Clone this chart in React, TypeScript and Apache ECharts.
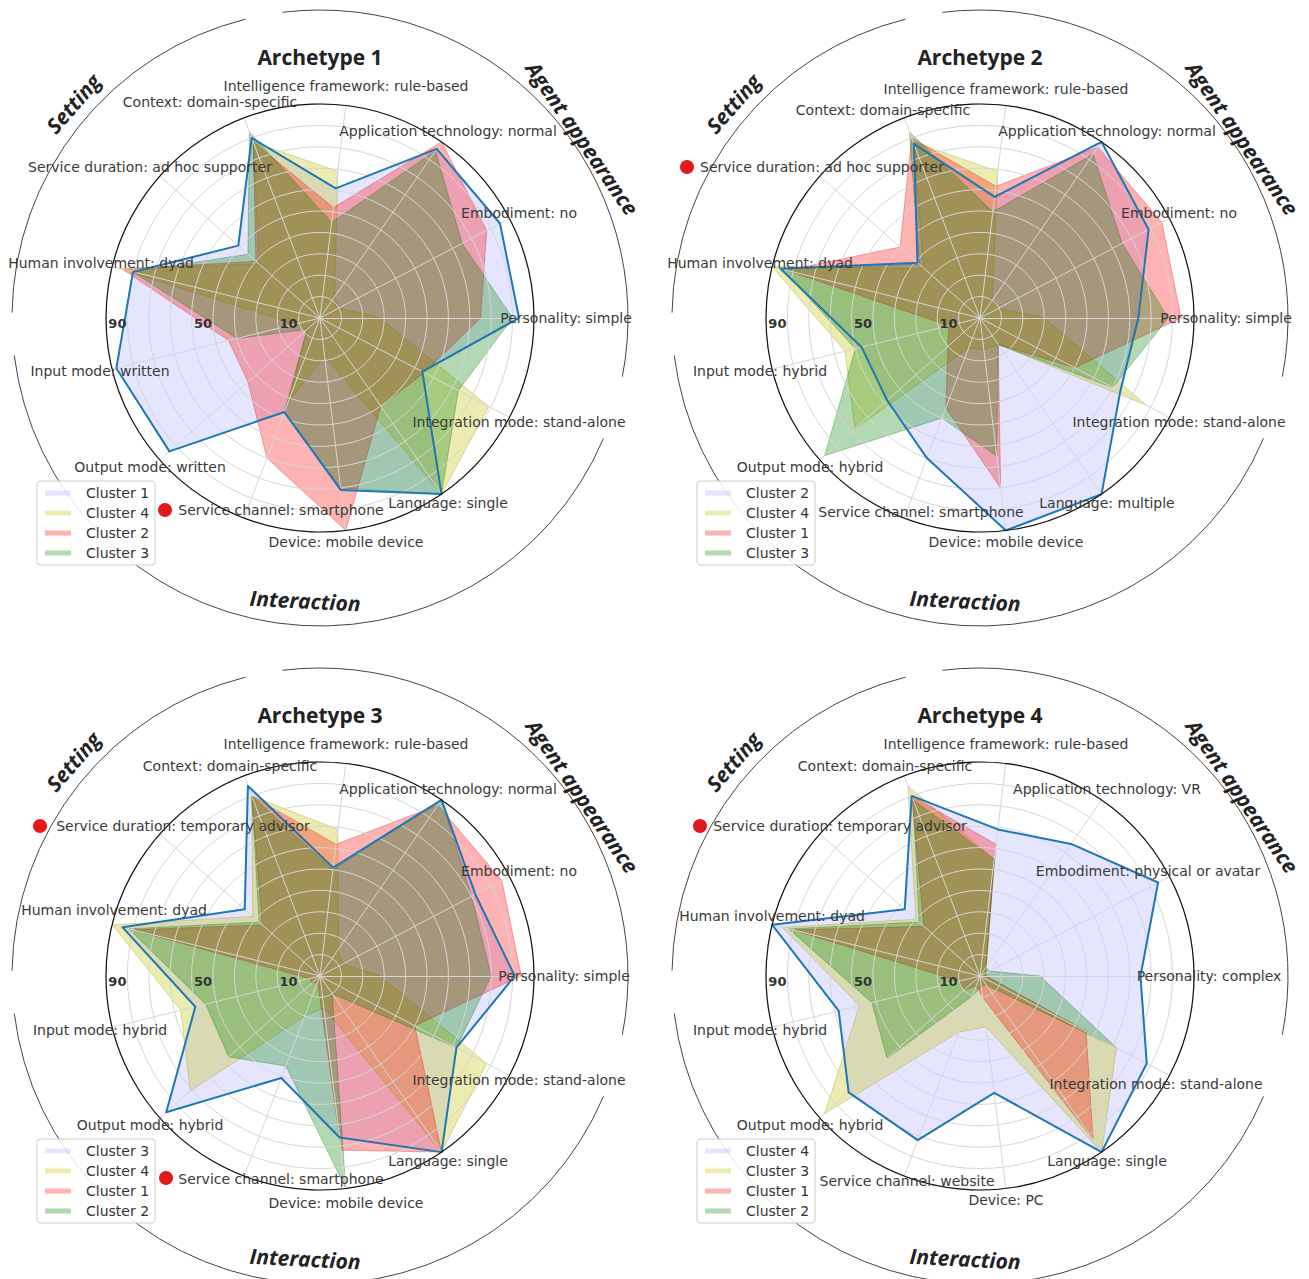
import React, { useEffect, useRef } from "react";
import * as echarts from "echarts";

// Axis order (counter-clockwise from the right): Personality, Embodiment, Application technology,
// Intelligence framework, Context, Service duration, Human involvement, Input mode, Output mode,
// Service channel, Device, Language, Integration mode
const labels1 = ["Personality: simple", "Embodiment: no", "Application technology: normal", "Intelligence framework: rule-based", "Context: domain-specific", "Service duration: ad hoc supporter", "Human involvement: dyad", "Input mode: written", "Output mode: written", "Service channel: smartphone", "Device: mobile device", "Language: single", "Integration mode: stand-alone"];
const labels2 = ["Personality: simple", "Embodiment: no", "Application technology: normal", "Intelligence framework: rule-based", "Context: domain-specific", "Service duration: ad hoc supporter", "Human involvement: dyad", "Input mode: hybrid", "Output mode: hybrid", "Service channel: smartphone", "Device: mobile device", "Language: multiple", "Integration mode: stand-alone"];
const labels3 = ["Personality: simple", "Embodiment: no", "Application technology: normal", "Intelligence framework: rule-based", "Context: domain-specific", "Service duration: temporary advisor", "Human involvement: dyad", "Input mode: hybrid", "Output mode: hybrid", "Service channel: smartphone", "Device: mobile device", "Language: single", "Integration mode: stand-alone"];
const labels4 = ["Personality: complex", "Embodiment: physical or avatar", "Application technology: VR", "Intelligence framework: rule-based", "Context: domain-specific", "Service duration: temporary advisor", "Human involvement: dyad", "Input mode: hybrid", "Output mode: hybrid", "Service channel: website", "Device: PC", "Language: single", "Integration mode: stand-alone"];

// Archetype 1
const a1Names = ["Cluster 1", "Cluster 4", "Cluster 2", "Cluster 3"];
const a1Cluster1 = [93, 95, 96, 61, 90, 51, 90, 98, 94, 47, 81, 100, 54];
const a1Cluster4 = [28, 10, 12, 69, 88, 38, 97, 12, 8, 42, 18, 100, 89];
const a1Cluster2 = [75, 88, 100, 52, 88, 40, 95, 44, 45, 70, 100, 50, 55];
const a1Cluster3 = [90, 75, 95, 45, 93, 45, 90, 40, 8, 47, 80, 100, 73];

// Archetype 2
const a2Names = ["Cluster 2", "Cluster 4", "Cluster 1", "Cluster 3"];
const a2Cluster2 = [74, 89, 100, 57, 87, 39, 96, 57, 58, 70, 100, 100, 74];
const a2Cluster4 = [30, 10, 10, 69, 88, 35, 100, 65, 78, 15, 15, 15, 88];
const a2Cluster1 = [94, 96, 97, 62, 90, 50, 93, 15, 20, 45, 80, 15, 50];
const a2Cluster3 = [88, 75, 93, 50, 93, 38, 95, 60, 97, 50, 65, 15, 70];

// Archetype 3
const a3Names = ["Cluster 3", "Cluster 4", "Cluster 1", "Cluster 2"];
const a3Cluster3 = [91, 82, 100, 51, 95, 47, 95, 60, 96, 51, 76, 100, 72];
const a3Cluster4 = [28, 12, 15, 69, 90, 42, 100, 67, 81, 20, 15, 100, 88];
const a3Cluster1 = [94, 96, 97, 62, 90, 36, 90, 5, 5, 3, 82, 100, 50];
const a3Cluster2 = [80, 80, 100, 50, 90, 38, 92, 55, 57, 45, 100, 10, 72];

// Archetype 4
const a4Names = ["Cluster 4", "Cluster 3", "Cluster 1", "Cluster 2"];
const a4Cluster4 = [75, 94, 75, 69, 90, 47, 100, 68, 82, 82, 55, 100, 88];
const a4Cluster3 = [3, 3, 5, 55, 95, 40, 95, 58, 97, 28, 24, 100, 72];
const a4Cluster1 = [3, 3, 5, 62, 90, 35, 90, 10, 10, 5, 10, 93, 56];
const a4Cluster2 = [28, 5, 5, 55, 88, 38, 92, 52, 58, 10, 5, 5, 72];

const tickValues = [10, 50, 90];
const sectionNames = ["Setting", "Agent appearance", "Interaction"];

// styling
const FILL = ["rgba(0,0,255,0.1)", "rgba(191,191,0,0.3)", "rgba(255,0,0,0.3)", "rgba(0,128,0,0.3)"];
const EDGE = ["rgba(0,0,255,0.1)", "rgba(150,150,0,0.35)", "rgba(200,0,0,0.3)", "rgba(0,100,0,0.3)"];
const BLUE = "#1f77b4";
const R = 214;

// layout (label centre offsets relative to the radar centre)
const off1 = [[246, 0], [199, -105], [128, -187], [26, -232], [-110, -216], [-170, -151], [-219, -55], [-220, 53], [-170, 149], [-39, 192], [26, 224], [128, 185], [199, 104]];
const off2 = [[246, 0], [199, -105], [127, -187], [26, -229], [-97, -208], [-158, -151], [-220, -55], [-220, 53], [-170, 149], [-59, 194], [26, 224], [127, 185], [199, 104]];
const off3 = [[244, 0], [199, -105], [128, -187], [26, -232], [-90, -210], [-137, -150], [-206, -66], [-220, 54], [-170, 149], [-39, 203], [26, 227], [128, 185], [199, 104]];
const off4 = [[229, 0], [168, -105], [127, -187], [26, -232], [-95, -210], [-140, -150], [-208, -60], [-220, 54], [-170, 149], [-73, 205], [26, 224], [127, 185], [176, 108]];

const configs = [
  { title: "Archetype 1", labels: labels1, names: a1Names, values: [a1Cluster1, a1Cluster4, a1Cluster2, a1Cluster3], offsets: off1, dots: [[-155, 192]], left: 0, top: 0, width: 655, height: 640, cx: 320, cy: 318 },
  { title: "Archetype 2", labels: labels2, names: a2Names, values: [a2Cluster2, a2Cluster4, a2Cluster1, a2Cluster3], offsets: off2, dots: [[-293, -151]], left: 655, top: 0, width: 654, height: 640, cx: 325, cy: 318 },
  { title: "Archetype 3", labels: labels3, names: a3Names, values: [a3Cluster3, a3Cluster4, a3Cluster1, a3Cluster2], offsets: off3, dots: [[-280, -150], [-154, 202]], left: 0, top: 640, width: 655, height: 639, cx: 320, cy: 336 },
  { title: "Archetype 4", labels: labels4, names: a4Names, values: [a4Cluster4, a4Cluster3, a4Cluster1, a4Cluster2], offsets: off4, dots: [[-280, -150]], left: 655, top: 640, width: 654, height: 639, cx: 325, cy: 336 },
];

const deg = Math.PI / 180;

function txt(x: number, y: number, text: string, font: any, extra: any = {}) {
  return {
    type: "text",
    x,
    y,
    z: 100,
    silent: true,
    ...extra,
    style: {
      text,
      fill: font.fill || "#333",
      fontSize: font.size,
      fontFamily: font.family || "DejaVu Sans",
      fontWeight: font.weight || "normal",
      fontStyle: font.style || "normal",
      align: "center",
      verticalAlign: "middle",
      textAlign: "center",
      textVerticalAlign: "middle",
    },
  };
}

function buildOption(cfg: any) {
  const { cx, cy } = cfg;
  const graphic: any[] = [];
  // title
  graphic.push(txt(cx, cy - 261, cfg.title, { size: 21, weight: "bold", family: "Open Sans", fill: "#222" }));
  // axis labels
  cfg.labels.forEach((lab: string, i: number) => {
    const [dx, dy] = cfg.offsets[i];
    graphic.push(txt(cx + dx, cy + dy, lab, { size: 14, fill: "#3a3a3a" }));
  });
  // red dots
  cfg.dots.forEach(([dx, dy]: number[]) => {
    graphic.push({ type: "circle", z: 100, silent: true, shape: { cx: cx + dx, cy: cy + dy, r: 7 }, style: { fill: "#e31a1c", stroke: "none" } });
  });
  // radial tick labels
  tickValues.forEach((v) => {
    graphic.push(txt(cx - (R * v) / 100 - 10, cy + 5, String(v), { size: 13, weight: "bold", fill: "#333" }));
  });
  // outer frame circle
  graphic.push({ type: "circle", z: 90, silent: true, shape: { cx, cy, r: R }, style: { fill: "none", stroke: "#111", lineWidth: 1.2 } });
  // section arcs (screen angles, clockwise)
  const arcs = [
    [-179, -104],
    [-97, 11],
    [23, 173],
  ];
  arcs.forEach(([s, e]) => {
    graphic.push({ type: "arc", z: 90, silent: true, shape: { cx, cy, r: 308, startAngle: s * deg, endAngle: e * deg, clockwise: true }, style: { fill: "none", stroke: "#444", lineWidth: 1 } });
  });
  // section titles
  const secs = [
    { a: 139, r: 327, rot: 49 },
    { a: 34.4, r: 318, rot: -55.6 },
    { a: 267, r: 283, rot: -3 },
  ];
  secs.forEach((s, i) => {
    graphic.push(
      txt(cx + s.r * Math.cos(s.a * deg), cy - s.r * Math.sin(s.a * deg), sectionNames[i], { size: 21, weight: "bold", style: "italic", family: "Open Sans", fill: "#222" }, { rotation: s.rot * deg })
    );
  });

  const series: any[] = cfg.values.map((vals: number[], i: number) => ({
    type: "radar",
    name: cfg.names[i],
    z: 1,
    symbol: "none",
    silent: true,
    data: [{ name: cfg.names[i], value: vals }],
    itemStyle: { color: FILL[i] },
    lineStyle: { color: EDGE[i], width: 1 },
    areaStyle: { color: FILL[i], opacity: 1 },
  }));
  series.push({
    type: "radar",
    name: cfg.names[0] + " outline",
    z: 3,
    symbol: "none",
    silent: true,
    data: [{ value: cfg.values[0] }],
    itemStyle: { color: BLUE },
    lineStyle: { color: BLUE, width: 2 },
  });

  return {
    animation: false,
    backgroundColor: "#fff",
    radar: {
      center: [cx, cy],
      radius: R,
      startAngle: 0,
      shape: "circle",
      splitNumber: 10,
      z: 2,
      indicator: cfg.labels.map((n: string) => ({ name: n, min: 0, max: 100 })),
      axisName: { show: false },
      splitLine: { lineStyle: { color: "#d6d6d6", width: 1 } },
      splitArea: { show: false },
      axisLine: { lineStyle: { color: "#d6d6d6", width: 1 } },
      axisTick: { show: false },
      axisLabel: { show: false },
    },
    legend: {
      data: cfg.names.map((n: string, i: number) => ({ name: n, icon: "rect", itemStyle: { color: FILL[i], borderWidth: 0 } })),
      orient: "vertical",
      left: cx - 283,
      top: cy + 163,
      itemWidth: 26,
      itemHeight: 5,
      itemGap: 4,
      selectedMode: false,
      z: 120,
      padding: [4, 6, 4, 8],
      borderColor: "#cccccc",
      borderWidth: 1,
      borderRadius: 3,
      backgroundColor: "rgba(255,255,255,0.85)",
      textStyle: { fontSize: 14, fontFamily: "DejaVu Sans", color: "#333", lineHeight: 16, padding: [0, 0, 0, 10] },
    },
    graphic,
    series,
  };
}

function Chart({ cfg }: { cfg: any }) {
  const ref = useRef<HTMLDivElement>(null);
  useEffect(() => {
    const chart = echarts.init(ref.current as HTMLDivElement, null, { renderer: "svg" });
    chart.setOption(buildOption(cfg));
    return () => chart.dispose();
  }, [cfg]);
  return <div ref={ref} style={{ position: "absolute", left: cfg.left, top: cfg.top, width: cfg.width, height: cfg.height }} />;
}

export default function App() {
  return (
    <div style={{ position: "absolute", left: 0, top: 0, width: 1309, height: 1279, overflow: "hidden", background: "#fff" }}>
      {configs.map((c) => (
        <Chart key={c.title} cfg={c} />
      ))}
    </div>
  );
}
